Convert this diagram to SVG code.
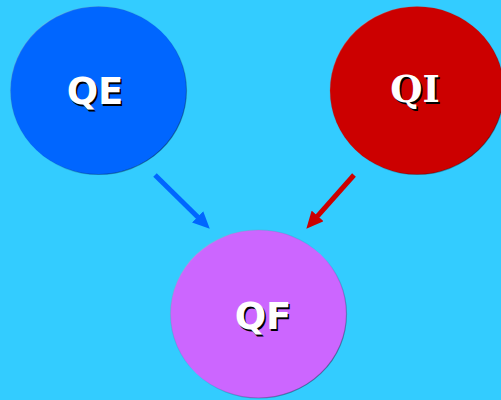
<svg xmlns="http://www.w3.org/2000/svg" width="501" height="400" viewBox="0 0 501 400">
<style>
.lbl{font-family:"DejaVu Sans",Verdana,sans-serif;font-weight:bold;font-size:37px;fill:#fff;text-anchor:middle}
.ser{font-family:"DejaVu Serif",serif}
.sh{fill:#000}
</style>
<defs>
<marker id="ab" viewBox="0 0 17 16" refX="0.5" refY="8" markerWidth="17" markerHeight="16" orient="auto" markerUnits="userSpaceOnUse"><path d="M0,0L17,8L0,16z" fill="#0066ff"/></marker>
<marker id="ar" viewBox="0 0 17 16" refX="0.5" refY="8" markerWidth="17" markerHeight="16" orient="auto" markerUnits="userSpaceOnUse"><path d="M0,0L17,8L0,16z" fill="#cc0000"/></marker>
<linearGradient id="edge" x1="0" y1="0" x2="1" y2="1"><stop offset="0" stop-color="#fff" stop-opacity="0.4"/><stop offset="0.5" stop-color="#000" stop-opacity="0"/><stop offset="1" stop-color="#000" stop-opacity="0.5"/></linearGradient>
</defs>
<rect width="501" height="400" fill="#33ccff"/>
<g id="connectors">
<line x1="155" y1="175" x2="198" y2="217.2" stroke="#0066ff" stroke-width="5" marker-end="url(#ab)"/>
<line x1="354" y1="175" x2="317.3" y2="216.3" stroke="#cc0000" stroke-width="5" marker-end="url(#ar)"/>
</g>
<g id="QE">
<ellipse cx="98.5" cy="90.5" rx="88" ry="84" fill="#0066ff" stroke="url(#edge)" stroke-width="1.2"/>
<text class="lbl sh" x="96.5" y="105.5">QE</text>
<text class="lbl" x="95" y="104">QE</text>
</g>
<g id="QI">
<ellipse cx="417" cy="90.5" rx="87" ry="84" fill="#cc0000" stroke="url(#edge)" stroke-width="1.2"/>
<text class="lbl ser sh" x="416.5" y="103.5">QI</text>
<text class="lbl ser" x="415" y="102">QI</text>
</g>
<g id="QF">
<ellipse cx="258.5" cy="314" rx="88" ry="84" fill="#cc66ff" stroke="url(#edge)" stroke-width="1.2"/>
<text class="lbl sh" x="264.5" y="330.5">QF</text>
<text class="lbl" x="263" y="329">QF</text>
</g>
</svg>
